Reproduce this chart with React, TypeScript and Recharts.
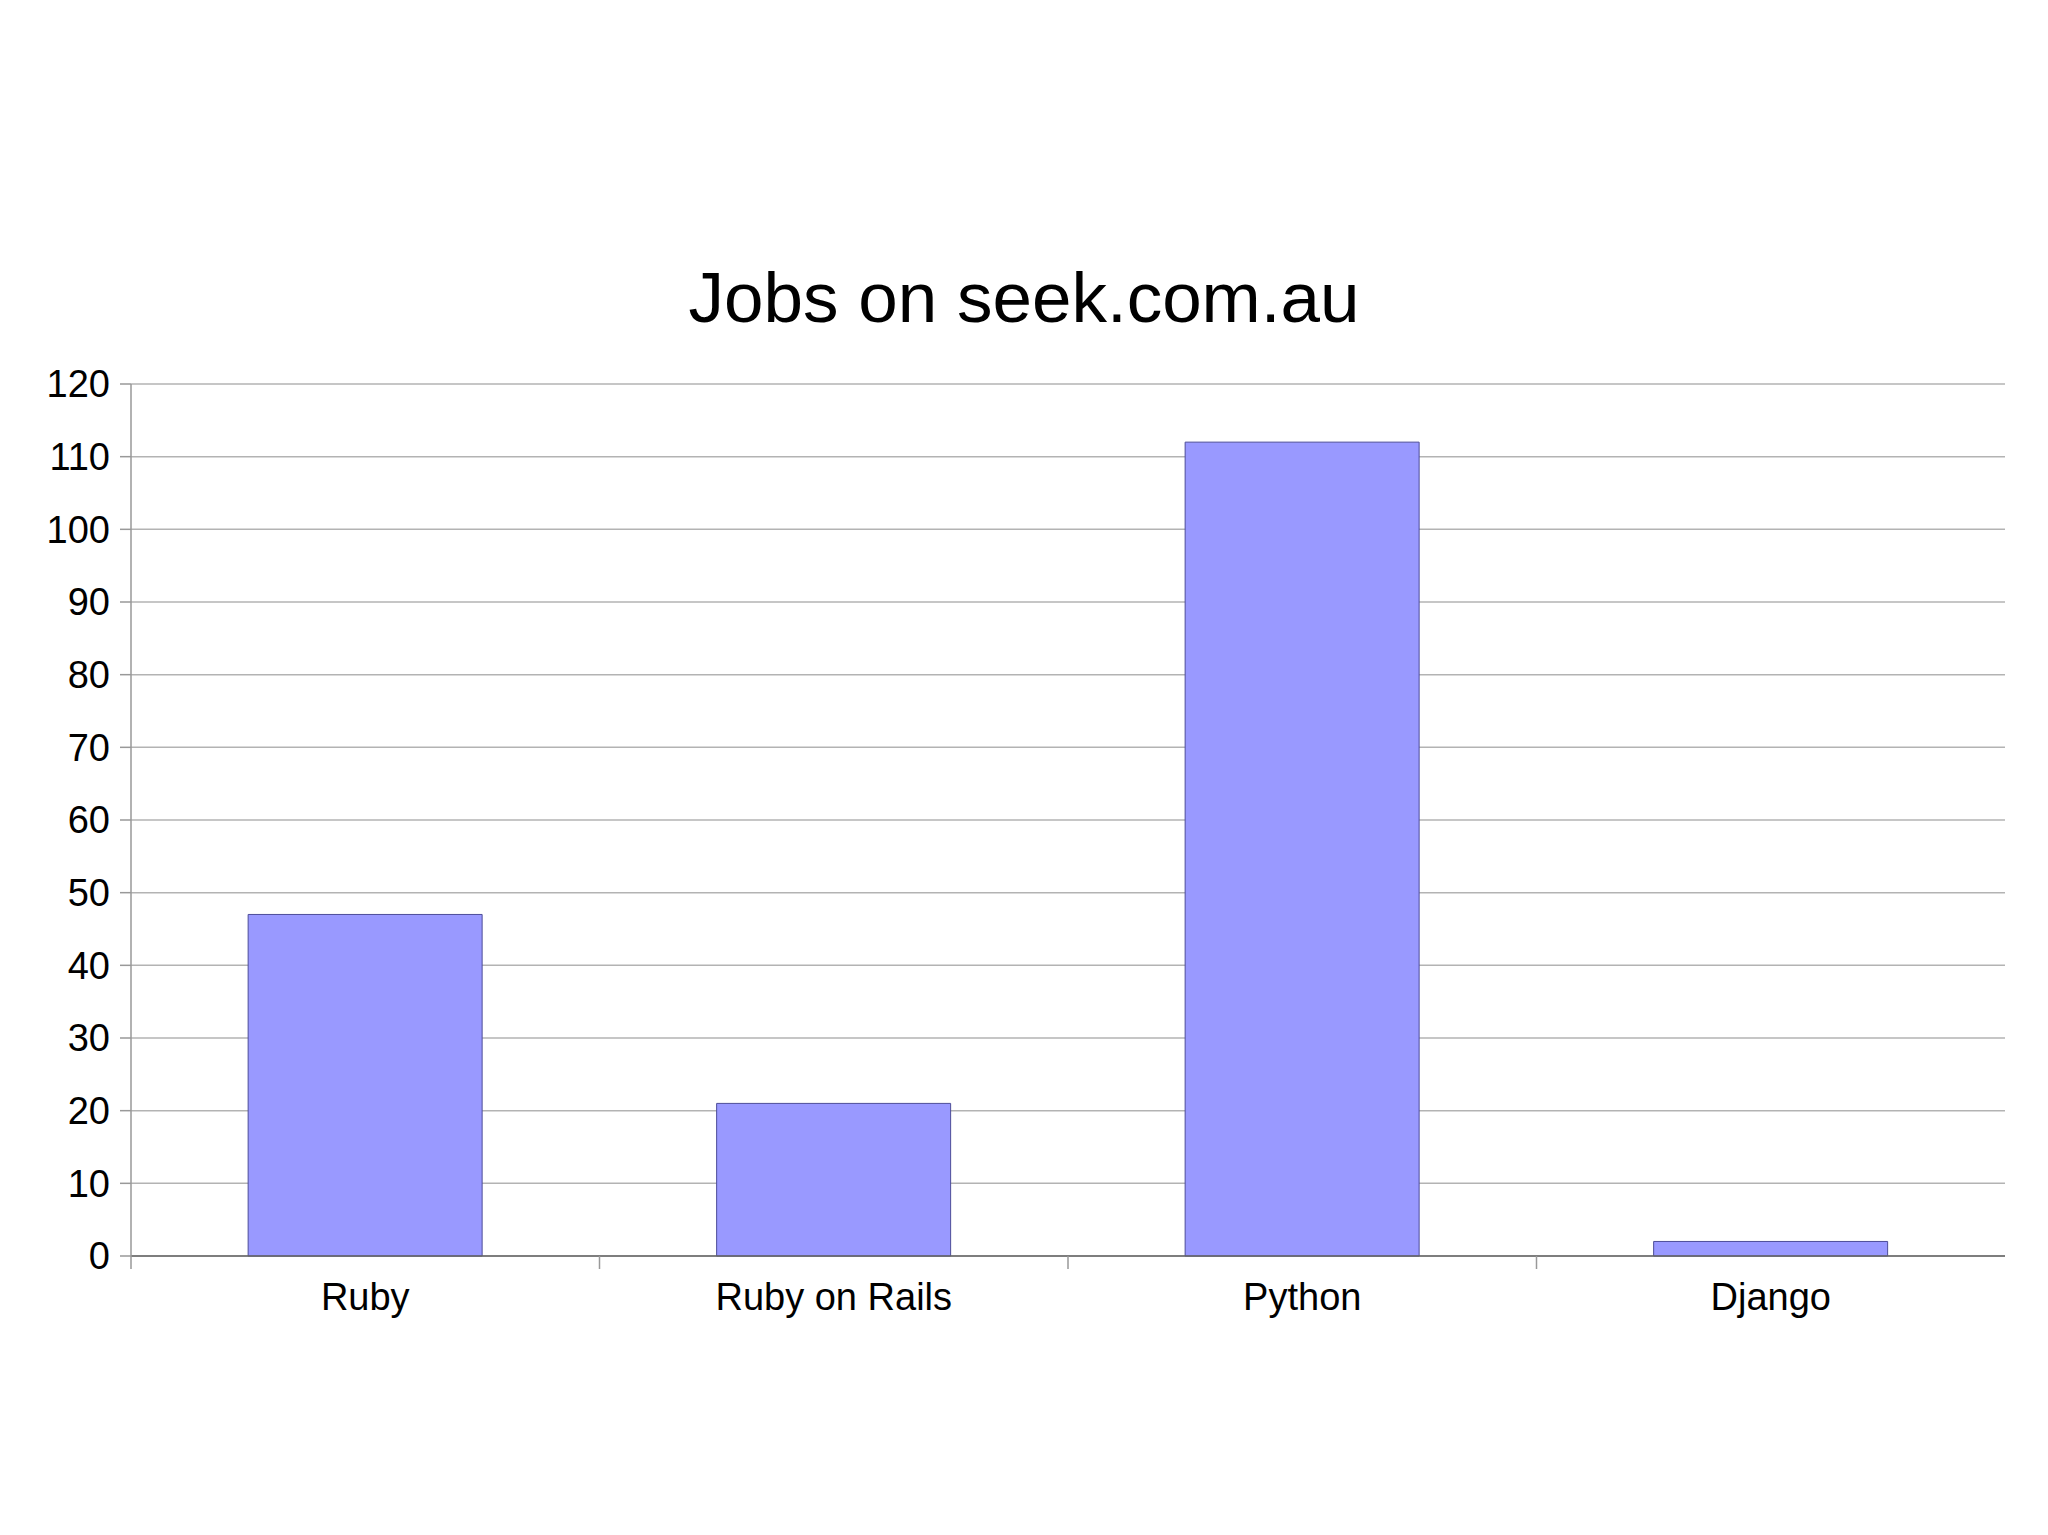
import React from 'react';
import { BarChart, Bar, CartesianGrid, XAxis, YAxis } from 'recharts';

const categories = ['Ruby', 'Ruby on Rails', 'Python', 'Django'];
const jobs = [47, 21, 112, 2];
const yTicks = [0, 10, 20, 30, 40, 50, 60, 70, 80, 90, 100, 110, 120];

const data = categories.map((name, i) => ({ name, jobs: jobs[i] }));

const W = 2048;
const H = 1535;
const margin = { top: 384, right: 43, bottom: 219, left: 0 };
const yAxisWidth = 131;
const band = (W - margin.left - margin.right - yAxisWidth) / categories.length;
const font = '"Liberation Sans", Arial, sans-serif';

const XTick = ({ x, y, payload }: any) => (
  <g>
    <line x1={x - band / 2} x2={x - band / 2} y1={y} y2={y + 13} stroke="#999999" strokeWidth={1.5} />
    <text x={x} y={y + 54} textAnchor="middle" fontSize={38} fontFamily={font} fill="#000">
      {payload.value}
    </text>
  </g>
);

export default function App() {
  return (
    <div style={{ position: 'absolute', left: 0, top: 0, width: W, height: H, background: '#fff' }}>
      <div
        style={{
          position: 'absolute',
          left: 0,
          width: W,
          top: 250,
          textAlign: 'center',
          fontFamily: font,
          fontSize: 71,
          lineHeight: '96px',
          color: '#000',
        }}
      >
        Jobs on seek.com.au
      </div>
      <BarChart width={W} height={H} data={data} margin={margin} barCategoryGap="25%">
        <CartesianGrid vertical={false} stroke="#b3b3b3" strokeWidth={1.5} />
        <XAxis
          dataKey="name"
          axisLine={{ stroke: '#666666', strokeWidth: 1.5 }}
          tickLine={false}
          tickSize={0}
          tickMargin={0}
          height={60}
          interval={0}
          tick={<XTick />}
        />
        <YAxis
          domain={[0, 120]}
          ticks={yTicks}
          interval={0}
          width={yAxisWidth}
          axisLine={{ stroke: '#999999', strokeWidth: 1.5 }}
          tickLine={{ stroke: '#999999', strokeWidth: 1.5 }}
          tickSize={11}
          tickMargin={10}
          tick={{ fontSize: 38, fontFamily: font, fill: '#000' }}
        />
        <Bar dataKey="jobs" fill="#9999ff" stroke="#4d4d99" strokeWidth={1} isAnimationActive={false} />
      </BarChart>
    </div>
  );
}
